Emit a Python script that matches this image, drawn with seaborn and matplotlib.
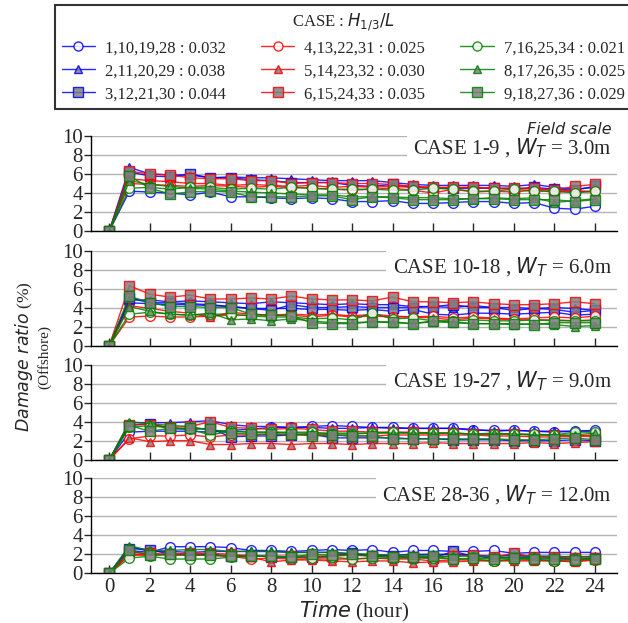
import numpy as np
import pandas as pd
import matplotlib
matplotlib.use('Agg')
import matplotlib.pyplot as plt
import seaborn as sns
from matplotlib.lines import Line2D

hours = list(range(25))

case_labels = ['1,10,19,28 : 0.032', '2,11,20,29 : 0.038', '3,12,21,30 : 0.044',
               '4,13,22,31 : 0.025', '5,14,23,32 : 0.030', '6,15,24,33 : 0.035',
               '7,16,25,34 : 0.021', '8,17,26,35 : 0.025', '9,18,27,36 : 0.029']
panel_titles = ['CASE 1-9 , $W_T$ = 3.0m', 'CASE 10-18 , $W_T$ = 6.0m',
                'CASE 19-27 , $W_T$ = 9.0m', 'CASE 28-36 , $W_T$ = 12.0m']

# damage ratio (%) per panel, series in legend order (t = 0..24 h)
wt3 = [
    [0, 4.2, 4.1, 4.0, 3.8, 4.1, 3.6, 3.6, 3.5, 3.4, 3.5, 3.4, 3.1, 3.1, 3.2, 2.9, 2.9, 3.0, 3.1, 3.1, 2.9, 3.0, 2.4, 2.3, 2.6],
    [0, 6.7, 6.0, 5.9, 5.9, 5.6, 5.7, 5.6, 5.6, 5.5, 5.4, 5.3, 5.3, 5.3, 5.1, 4.9, 4.8, 4.8, 4.8, 4.8, 4.7, 4.9, 4.6, 4.4, 4.6],
    [0, 6.2, 5.8, 5.7, 6.0, 5.6, 5.6, 5.4, 5.3, 5.1, 5.1, 5.1, 4.8, 4.7, 4.9, 4.6, 4.5, 4.5, 4.5, 4.5, 4.4, 4.6, 4.4, 4.3, 4.7],
    [0, 5.0, 4.9, 4.8, 4.7, 4.8, 4.7, 4.6, 4.7, 4.6, 4.5, 4.4, 4.3, 4.4, 4.5, 4.3, 4.0, 4.4, 4.1, 4.2, 4.1, 4.3, 4.1, 4.2, 4.2],
    [0, 5.5, 5.3, 5.2, 5.0, 5.0, 4.8, 4.9, 4.8, 4.7, 4.8, 4.6, 4.7, 4.6, 4.7, 4.6, 4.6, 4.5, 4.6, 4.5, 4.5, 4.4, 4.3, 4.2, 4.1],
    [0, 6.3, 6.0, 5.9, 5.6, 5.5, 5.5, 5.3, 5.3, 5.0, 5.1, 5.1, 5.0, 5.0, 4.9, 4.7, 4.6, 4.6, 4.6, 4.5, 4.5, 4.5, 4.3, 4.7, 4.9],
    [0, 4.5, 4.6, 4.4, 4.6, 4.6, 4.4, 4.5, 4.4, 4.6, 4.5, 4.4, 4.4, 4.4, 4.3, 4.3, 4.5, 4.4, 4.2, 4.2, 4.4, 4.2, 4.2, 4.0, 4.2],
    [0, 5.3, 4.9, 4.7, 4.5, 4.4, 4.2, 4.1, 4.0, 3.9, 3.8, 3.8, 3.6, 3.6, 3.6, 3.5, 3.5, 3.4, 3.4, 3.5, 3.4, 3.5, 3.0, 3.2, 3.4],
    [0, 5.8, 4.5, 3.9, 4.1, 4.2, 4.1, 3.6, 3.6, 3.6, 3.7, 3.7, 3.3, 3.6, 3.5, 3.3, 3.3, 3.3, 3.4, 3.4, 3.3, 3.3, 3.3, 3.1, 3.3],
]
wt6 = [
    [0, 4.5, 4.4, 4.3, 4.3, 4.2, 4.1, 3.9, 3.9, 3.9, 3.8, 3.8, 3.7, 3.8, 3.6, 3.8, 3.3, 3.2, 3.4, 3.4, 3.3, 3.4, 3.5, 3.2, 3.3],
    [0, 4.8, 4.8, 4.6, 4.7, 4.6, 4.5, 4.4, 4.6, 4.5, 4.4, 4.3, 4.4, 4.3, 4.3, 4.1, 4.1, 4.0, 4.2, 4.0, 4.0, 3.9, 4.0, 3.9, 3.7],
    [0, 5.0, 4.5, 4.5, 4.4, 4.3, 4.1, 3.9, 3.7, 4.3, 4.0, 4.0, 4.1, 4.0, 4.0, 4.0, 4.1, 4.3, 4.0, 4.0, 3.7, 3.9, 3.8, 3.5, 3.7],
    [0, 3.0, 3.1, 3.0, 3.0, 3.1, 3.2, 3.2, 3.2, 3.2, 3.0, 3.2, 3.0, 3.1, 3.0, 3.0, 3.1, 2.9, 3.0, 2.9, 2.8, 2.9, 3.0, 2.9, 3.1],
    [0, 4.2, 3.9, 3.6, 3.4, 3.0, 3.5, 3.3, 3.2, 3.3, 3.2, 3.3, 3.1, 3.3, 3.1, 3.0, 2.9, 2.7, 2.9, 2.8, 2.7, 2.7, 2.7, 2.6, 2.7],
    [0, 6.3, 5.4, 5.1, 5.3, 4.9, 4.9, 5.0, 4.9, 5.2, 4.9, 4.8, 4.8, 4.7, 5.1, 4.6, 4.6, 4.5, 4.6, 4.4, 4.3, 4.3, 4.4, 4.6, 4.4],
    [0, 3.3, 3.5, 3.3, 3.2, 3.3, 3.3, 3.1, 3.0, 3.0, 2.8, 2.9, 2.7, 3.4, 2.8, 2.9, 2.6, 2.6, 2.7, 2.6, 2.6, 2.7, 2.6, 2.6, 2.6],
    [0, 4.1, 3.6, 3.3, 3.2, 3.4, 2.7, 2.8, 2.6, 2.8, 2.6, 2.4, 2.4, 2.5, 2.4, 2.3, 2.5, 2.4, 2.3, 2.3, 2.2, 2.3, 2.2, 2.0, 2.1],
    [0, 5.2, 4.5, 4.1, 4.1, 4.0, 4.0, 3.3, 3.2, 3.1, 2.4, 2.3, 2.3, 2.5, 2.5, 2.3, 2.6, 2.5, 2.3, 2.3, 2.3, 2.2, 2.4, 2.4, 2.4],
]
wt9 = [
    [0, 2.9, 3.0, 3.0, 3.0, 2.9, 3.1, 3.2, 3.4, 3.4, 3.5, 3.6, 3.5, 3.4, 3.4, 3.3, 3.3, 3.3, 3.1, 3.1, 3.1, 3.0, 2.9, 3.0, 3.1],
    [0, 3.9, 3.9, 3.9, 4.0, 4.1, 3.7, 3.5, 3.5, 3.4, 3.4, 3.3, 3.3, 3.4, 3.3, 3.3, 3.3, 3.3, 3.2, 3.0, 3.1, 3.0, 3.0, 3.0, 3.0],
    [0, 3.6, 3.8, 3.3, 3.2, 3.3, 2.4, 2.5, 2.5, 2.6, 2.7, 2.3, 2.3, 2.3, 2.3, 2.2, 2.2, 2.1, 2.1, 2.1, 2.0, 2.0, 2.0, 2.1, 2.0],
    [0, 2.2, 2.5, 2.5, 2.6, 2.4, 2.6, 2.6, 2.7, 2.6, 2.7, 2.6, 2.5, 2.5, 2.6, 2.6, 2.6, 2.6, 2.6, 2.5, 2.5, 2.4, 2.4, 2.5, 2.4],
    [0, 2.3, 1.9, 2.0, 2.0, 1.6, 1.6, 1.7, 1.7, 1.6, 1.7, 1.7, 1.6, 1.7, 1.7, 1.7, 1.8, 1.7, 1.7, 1.7, 1.7, 1.8, 1.7, 1.8, 1.9],
    [0, 3.7, 3.7, 3.4, 3.5, 4.0, 3.4, 3.3, 3.2, 3.3, 3.2, 3.0, 3.0, 2.9, 2.9, 2.9, 2.8, 2.8, 2.7, 2.7, 2.7, 2.6, 2.6, 2.5, 2.6],
    [0, 3.4, 3.6, 3.3, 3.2, 2.6, 3.0, 2.9, 2.9, 2.9, 2.9, 2.7, 2.7, 2.8, 2.9, 2.8, 2.8, 2.8, 2.7, 2.7, 2.7, 2.7, 2.6, 2.9, 2.9],
    [0, 4.0, 3.8, 3.6, 3.5, 3.1, 3.0, 2.9, 2.9, 2.8, 2.8, 2.8, 2.8, 2.8, 2.8, 2.8, 2.8, 2.8, 2.7, 2.8, 2.7, 2.6, 2.6, 2.6, 2.8],
    [0, 3.6, 3.0, 3.3, 3.3, 3.2, 2.8, 2.7, 2.7, 2.7, 2.5, 2.6, 2.5, 2.5, 2.2, 2.2, 2.2, 2.2, 2.2, 2.2, 2.1, 2.1, 2.2, 2.3, 2.1],
]
wt12 = [
    [0, 2.4, 2.2, 2.8, 2.8, 2.8, 2.7, 2.4, 2.4, 2.3, 2.4, 2.5, 2.4, 2.5, 2.2, 2.4, 2.4, 2.3, 2.3, 2.4, 2.1, 2.2, 2.2, 2.2, 2.2],
    [0, 2.8, 2.3, 2.3, 2.2, 2.3, 2.3, 2.3, 2.3, 2.2, 2.2, 2.2, 2.0, 1.9, 1.9, 2.0, 2.0, 2.0, 1.9, 1.8, 1.9, 1.8, 1.8, 1.7, 1.8],
    [0, 2.6, 2.5, 2.0, 2.0, 2.0, 1.8, 1.9, 1.7, 1.7, 1.7, 1.8, 2.1, 1.8, 1.8, 1.7, 1.6, 2.3, 1.8, 1.6, 1.7, 1.6, 1.6, 1.5, 1.6],
    [0, 2.0, 2.0, 1.9, 1.9, 1.9, 1.8, 1.5, 1.6, 1.5, 1.5, 1.5, 1.5, 1.6, 1.5, 1.5, 1.3, 1.4, 1.4, 1.3, 1.4, 1.4, 1.3, 1.3, 1.4],
    [0, 1.9, 1.9, 2.0, 2.0, 1.9, 1.8, 1.7, 1.2, 1.4, 1.4, 1.3, 1.2, 1.3, 1.3, 1.1, 1.2, 1.2, 1.3, 1.3, 1.3, 1.3, 1.3, 1.2, 1.4],
    [0, 2.2, 2.1, 2.0, 2.1, 2.1, 2.0, 1.8, 1.8, 1.8, 1.8, 1.8, 1.9, 1.8, 1.7, 1.7, 1.7, 1.8, 1.9, 1.7, 2.1, 1.7, 1.7, 1.6, 1.6],
    [0, 1.6, 1.8, 1.5, 1.5, 1.5, 1.7, 1.8, 1.8, 1.7, 1.6, 1.7, 1.5, 1.6, 1.6, 1.6, 1.6, 1.5, 1.5, 1.3, 1.5, 1.5, 1.3, 1.5, 1.5],
    [0, 2.9, 2.4, 2.4, 2.5, 2.5, 2.3, 2.3, 2.3, 2.2, 2.2, 2.2, 2.1, 2.0, 1.9, 1.9, 1.8, 1.8, 1.8, 1.7, 1.7, 1.8, 1.7, 1.8, 1.7],
    [0, 2.4, 1.9, 2.0, 1.9, 1.9, 1.8, 1.8, 1.8, 1.7, 2.0, 1.9, 2.0, 1.8, 1.7, 1.7, 1.8, 1.5, 1.6, 1.5, 1.6, 1.5, 1.5, 1.4, 1.5],
]
panels = [wt3, wt6, wt9, wt12]

line_colors = ['#0000ff'] * 3 + ['#ff0000'] * 3 + ['#008000'] * 3
marker_types = ['o', '^', 's'] * 3
face_colors = ['white', '#808080', '#808080'] * 3
marker_sizes = [7, 6, 7.5] * 3

sns.set_style('white')
plt.rcParams['font.family'] = ['Liberation Serif', 'DejaVu Serif']
plt.rcParams['mathtext.fontset'] = 'dejavusans'

fig = plt.figure(figsize=(6.28, 6.23), dpi=100)
bottoms = [0.6292, 0.4454, 0.2621, 0.0798]
axes = []
for p, data in enumerate(panels):
    ax = fig.add_axes([0.145, bottoms[p], 0.8376, 0.1525])
    axes.append(ax)
    for i, vals in enumerate(data):
        sns.lineplot(x=hours, y=vals, ax=ax, color=line_colors[i], lw=1,
                     marker=marker_types[i], markersize=marker_sizes[i],
                     markerfacecolor=face_colors[i], markeredgecolor=line_colors[i],
                     markeredgewidth=1, alpha=0.85)
    ax.set_xlim(-0.9, 25.1)
    ax.set_ylim(0, 10)
    ax.set_yticks(range(0, 11, 2))
    ax.set_xticks(range(0, 25, 2))
    ax.yaxis.grid(True, color='#b4b4b4', lw=1)
    ax.set_axisbelow(True)
    for s in ['top', 'right']:
        ax.spines[s].set_visible(False)
    for s in ['left', 'bottom']:
        ax.spines[s].set_color('black')
        ax.spines[s].set_linewidth(1)
    ax.tick_params(axis='y', direction='out', length=5, width=1, labelsize=15, pad=1, left=True)
    ax.tick_params(axis='x', direction='in', length=6, width=1, labelsize=15, bottom=True)
    if p < 3:
        ax.tick_params(axis='x', labelbottom=False)
    ax.set_xlabel('')
    ax.set_ylabel('')
    ty = 0.87 if p == 0 else 0.82
    ax.text(0.99, ty, panel_titles[p], transform=ax.transAxes, ha='right', va='center',
            fontsize=15, clip_on=False,
            bbox=dict(boxstyle='square,pad=0.3', fc='white', ec='none'))

axes[0].text(0.99, 1.065, 'Field scale', transform=axes[0].transAxes, ha='right', va='center',
             fontsize=11.5, family='DejaVu Sans', style='italic')

axes[3].set_xlabel('$Time$ (hour)', fontsize=15, labelpad=2)
fig.text(24 / 628, 1 - 357 / 623, '$Damage\\ ratio$ (%)', ha='center', va='center',
         rotation=90, fontsize=12.5)
fig.text(44 / 628, 1 - 357 / 623, '(Offshore)', ha='center', va='center',
         rotation=90, fontsize=11)

handles = [Line2D([], [], color=line_colors[i], lw=1, marker=marker_types[i],
                  markersize=marker_sizes[i] - 0.5, markerfacecolor=face_colors[i],
                  markeredgecolor=line_colors[i], alpha=0.85) for i in range(9)]
# legend reads column by column
leg = fig.legend(handles, case_labels, ncol=3, loc='upper left',
                 bbox_to_anchor=(55 / 628, 1 - 5 / 623), borderaxespad=0, fontsize=12,
                 title='CASE : $H_{1/3}/L$', title_fontsize=12, frameon=True,
                 fancybox=False, edgecolor='black', handlelength=2.0,
                 columnspacing=2.1, labelspacing=0.42, borderpad=0.4, handletextpad=0.6)
leg.get_frame().set_linewidth(1.5)

fig.savefig('out.png', dpi=100)
